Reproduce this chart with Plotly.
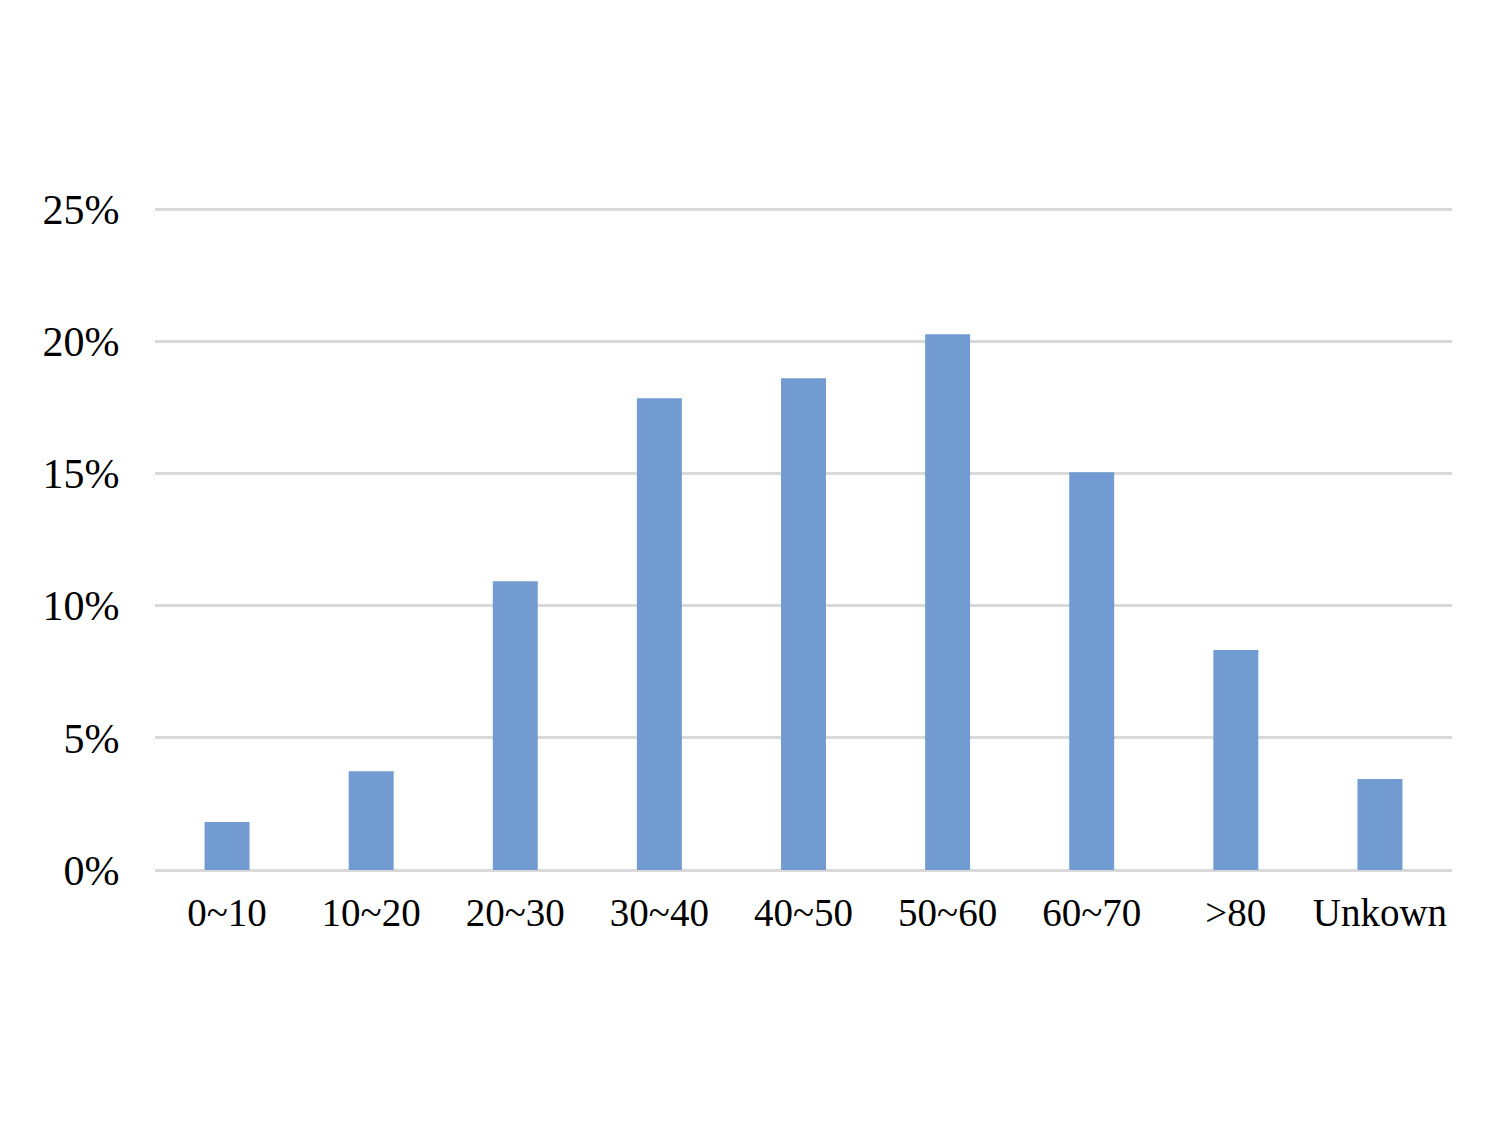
import plotly.graph_objects as go

categories = ["0~10", "10~20", "20~30", "30~40", "40~50", "50~60", "60~70", ">80", "Unkown"]
values = [1.82, 3.74, 10.93, 17.85, 18.61, 20.27, 15.05, 8.32, 3.44]
y_ticks = [0, 5, 10, 15, 20, 25]
y_tick_labels = ["0%", "5%", "10%", "15%", "20%", "25%"]

fig = go.Figure(go.Bar(x=categories, y=values, marker_color="#729bd2", marker_line_width=0))

fig.update_layout(
    width=1500, height=1125,
    paper_bgcolor="white", plot_bgcolor="white",
    margin=dict(l=147, r=56, t=196, b=263),
    bargap=0.688,
    showlegend=False,
    font=dict(family="Liberation Serif", size=40, color="#000000"),
)
fig.update_yaxes(
    range=[0, 25.2], tickvals=y_ticks, ticktext=y_tick_labels,
    tickfont=dict(size=42),
    showgrid=True, gridcolor="#d9d9d9", gridwidth=3,
    zeroline=True, zerolinecolor="#d9d9d9", zerolinewidth=3,
    ticks="outside", ticklen=26, tickcolor="rgba(0,0,0,0)",
    showline=False,
)
fig.update_xaxes(
    tickfont=dict(size=39),
    showgrid=False, showline=False,
    ticks="outside", ticklen=8, tickcolor="rgba(0,0,0,0)",
)

fig.write_html("out.html")
